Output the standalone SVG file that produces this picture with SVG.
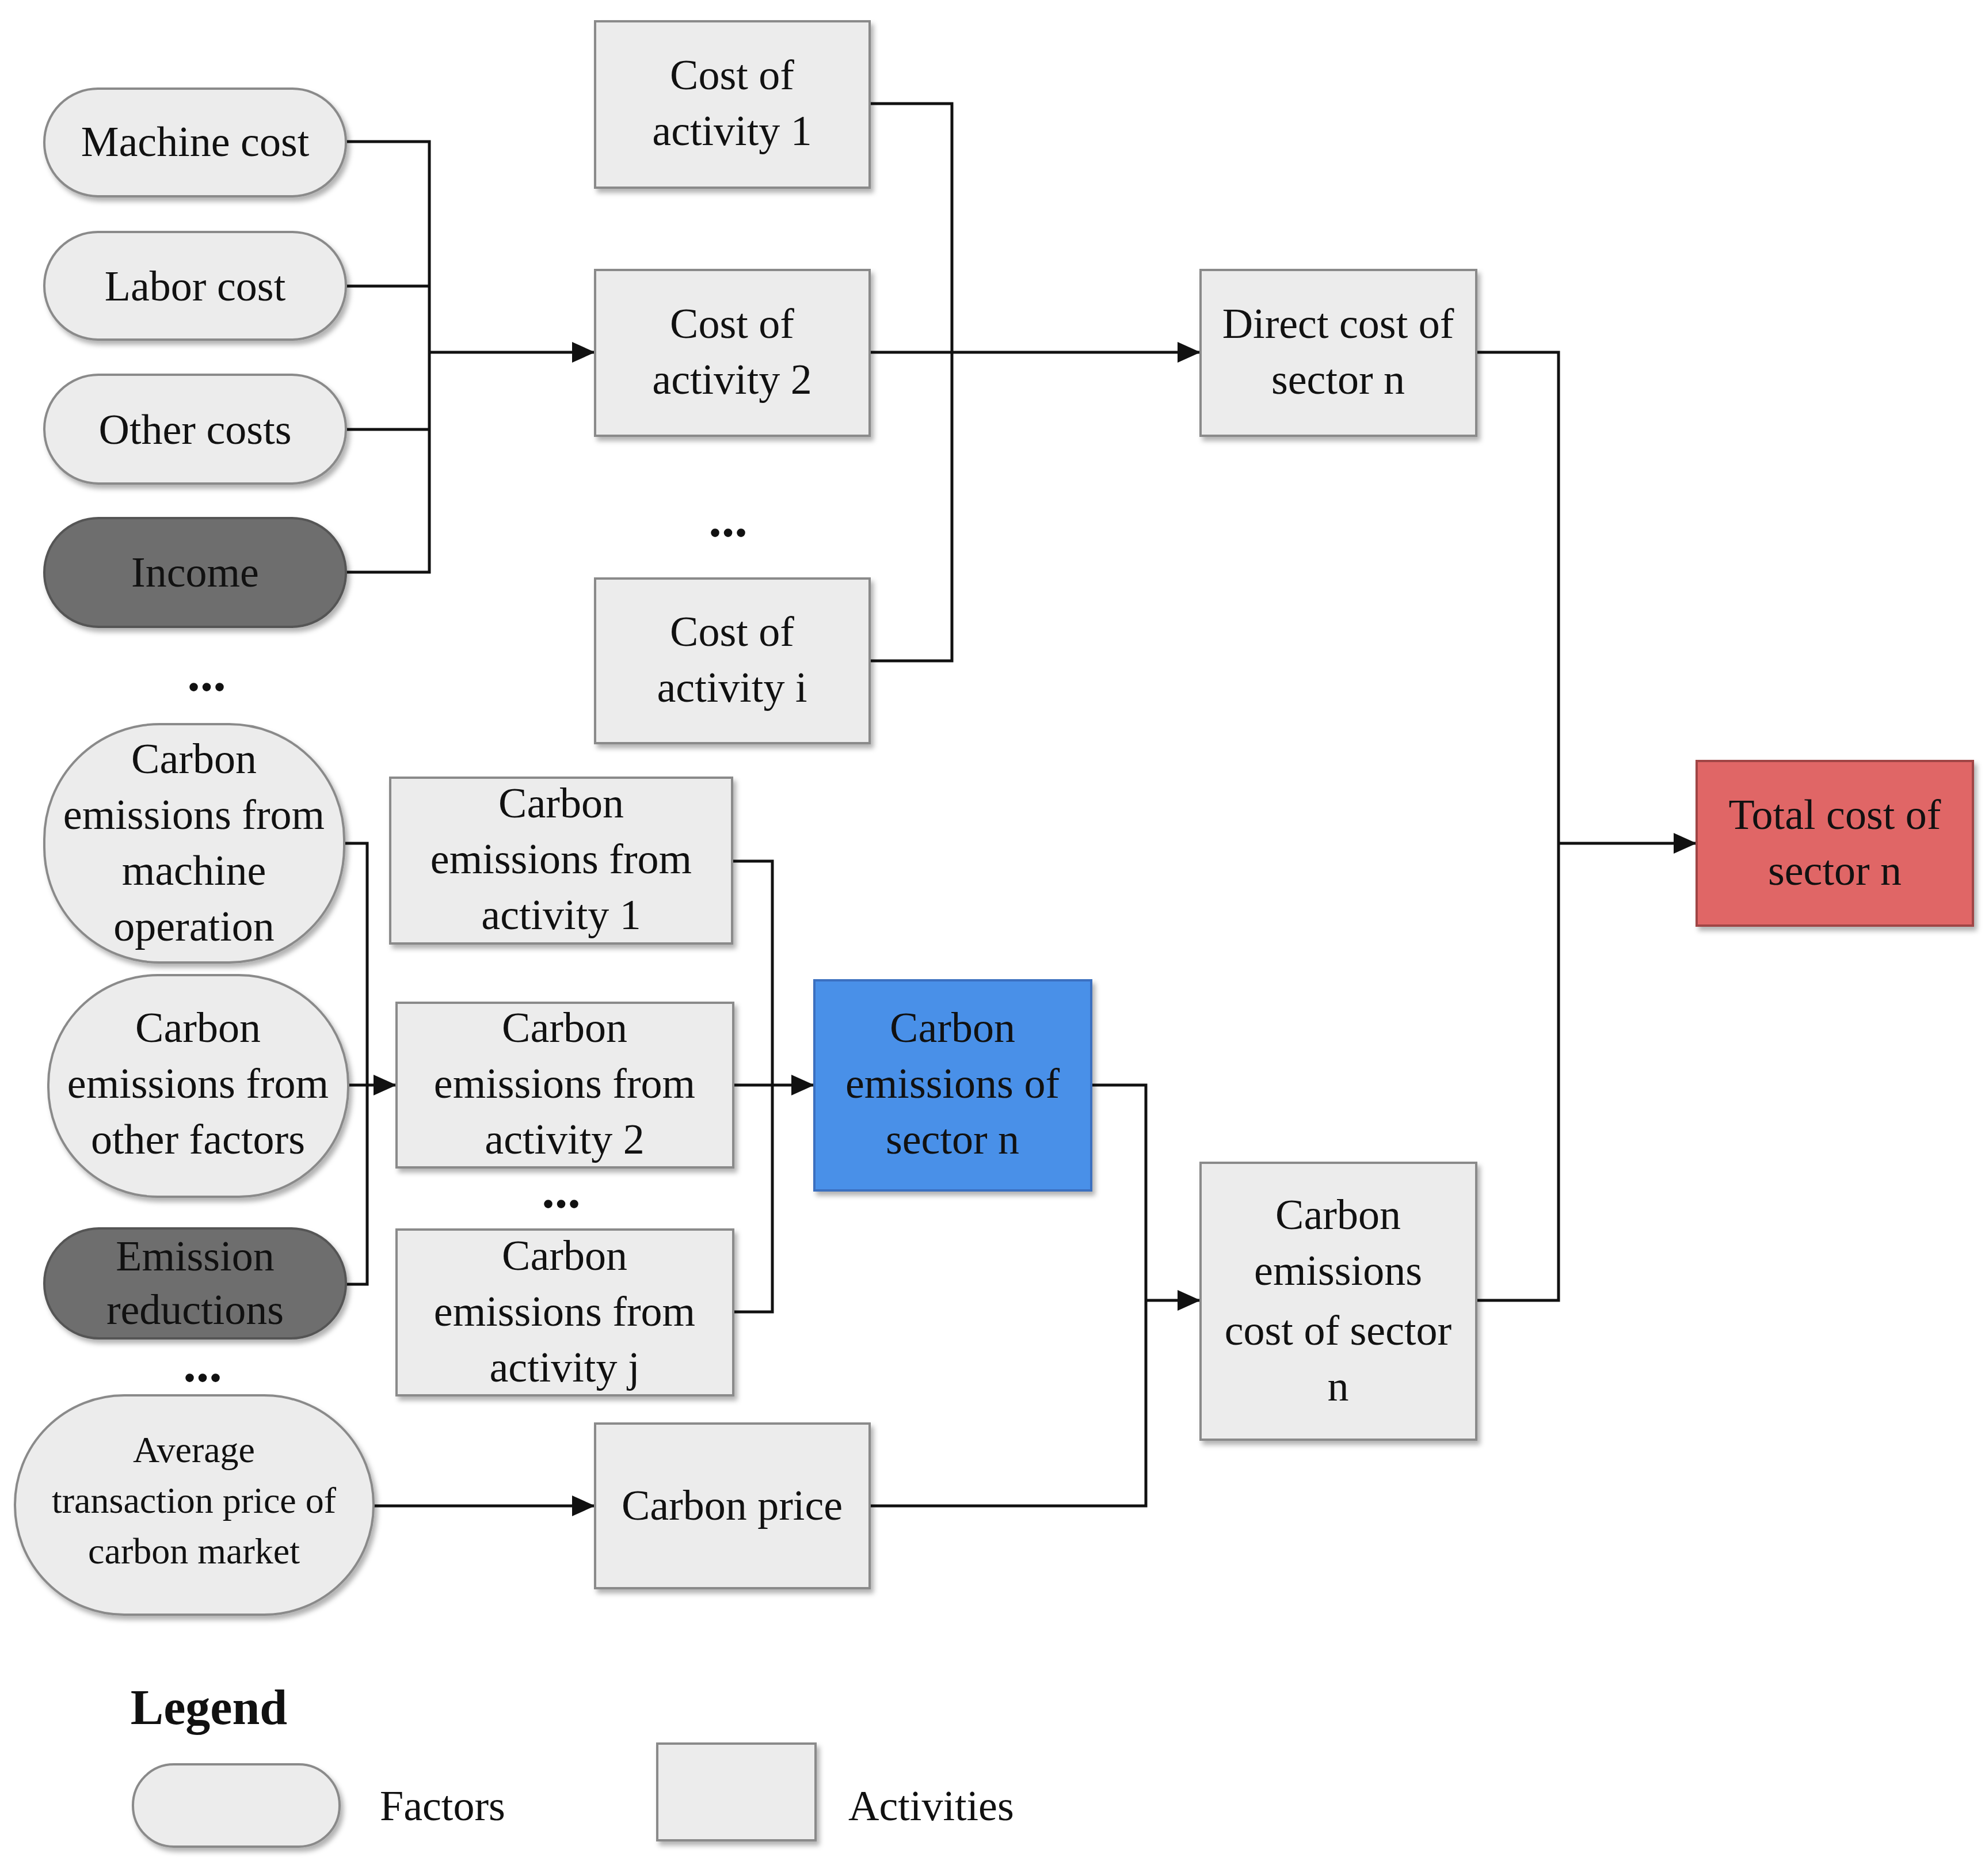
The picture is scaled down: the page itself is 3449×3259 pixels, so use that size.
<svg xmlns="http://www.w3.org/2000/svg" width="3449" height="3259" viewBox="0 0 3449 3259">
<style>
.f{fill:#ececec;stroke:#8a8a8a;stroke-width:4;filter:url(#sh)}
.d{fill:#6e6e6e;stroke:#555;stroke-width:4;filter:url(#sh)}
.b{fill:#ececec;stroke:#8a8a8a;stroke-width:4;filter:url(#sh)}
.t{font-family:"Liberation Serif",serif;font-size:74px;fill:#111;text-anchor:middle}
.s{font-size:64px}
.e{font-size:90px;font-weight:bold}
.c{fill:none;stroke:#111;stroke-width:5}
</style>
<defs>
<filter id="sh" x="-10%" y="-10%" width="130%" height="130%"><feDropShadow dx="5" dy="7" stdDeviation="4" flood-color="#000" flood-opacity="0.3"/></filter>
<marker id="m" viewBox="0 0 40 36" refX="40" refY="18" markerWidth="40" markerHeight="36" markerUnits="userSpaceOnUse" orient="auto"><path d="M0,0 L40,18 L0,36 z" fill="#111"/></marker>
</defs>
<rect width="3449" height="3259" fill="#fff"/>
<g id="connectors">
<path class="c" d="M601,246H746V994H601M601,497H746M601,746H746"/>
<path class="c" d="M746,612H1034" marker-end="url(#m)"/>
<path class="c" d="M1511,180H1654V1148H1511"/>
<path class="c" d="M1511,612H2086" marker-end="url(#m)"/>
<path class="c" d="M2565,612H2708V2259H2565"/>
<path class="c" d="M2708,1465H2948" marker-end="url(#m)"/>
<path class="c" d="M598,1465H638V2231H601"/>
<path class="c" d="M605,1885H689" marker-end="url(#m)"/>
<path class="c" d="M1272,1496H1342V2279H1274"/>
<path class="c" d="M1274,1885H1415" marker-end="url(#m)"/>
<path class="c" d="M1896,1885H1991V2616H1511"/>
<path class="c" d="M1991,2259H2086" marker-end="url(#m)"/>
<path class="c" d="M649,2616H1034" marker-end="url(#m)"/>
</g>
<g id="machine-cost"><rect class="f" x="77" y="154" width="524" height="187" rx="93"/><text class="t" x="339" y="271">Machine cost</text></g>
<g id="labor-cost"><rect class="f" x="77" y="403" width="524" height="187" rx="93"/><text class="t" x="339" y="522">Labor cost</text></g>
<g id="other-costs"><rect class="f" x="77" y="651" width="524" height="189" rx="94"/><text class="t" x="339" y="771">Other costs</text></g>
<g id="income"><rect class="d" x="77" y="900" width="524" height="189" rx="94"/><text class="t" x="339" y="1019">Income</text></g>
<text class="t e" x="359" y="1200">...</text>
<g id="carbon-machine"><rect class="f" x="77" y="1258" width="521" height="414" rx="200"/><text class="t" x="337" y="1343">Carbon</text><text class="t" x="337" y="1440">emissions from</text><text class="t" x="337" y="1537">machine</text><text class="t" x="337" y="1634">operation</text></g>
<g id="carbon-other"><rect class="f" x="84" y="1694" width="521" height="385" rx="190"/><text class="t" x="344" y="1810">Carbon</text><text class="t" x="344" y="1907">emissions from</text><text class="t" x="344" y="2004">other factors</text></g>
<g id="emission-reductions"><rect class="d" x="77" y="2134" width="524" height="191" rx="95"/><text class="t" x="339" y="2207">Emission</text><text class="t" x="339" y="2300">reductions</text></g>
<text class="t e" x="352" y="2400">...</text>
<g id="avg-price"><rect class="f" x="26" y="2424" width="623" height="381" rx="190"/><text class="t s" x="337" y="2540">Average</text><text class="t s" x="337" y="2628">transaction price of</text><text class="t s" x="337" y="2716">carbon market</text></g>
<g id="cost-act1"><rect class="b" x="1034" y="37" width="477" height="289"/><text class="t" x="1272" y="155">Cost of</text><text class="t" x="1272" y="252">activity 1</text></g>
<g id="cost-act2"><rect class="b" x="1034" y="469" width="477" height="288"/><text class="t" x="1272" y="587">Cost of</text><text class="t" x="1272" y="684">activity 2</text></g>
<text class="t e" x="1265" y="932">...</text>
<g id="cost-acti"><rect class="b" x="1034" y="1005" width="477" height="286"/><text class="t" x="1272" y="1122">Cost of</text><text class="t" x="1272" y="1219">activity i</text></g>
<g id="direct-cost"><rect class="b" x="2086" y="469" width="479" height="288"/><text class="t" x="2325" y="587">Direct cost of</text><text class="t" x="2325" y="684">sector n</text></g>
<g id="total-cost"><rect x="2948" y="1322" width="480" height="286" fill="#e06666" stroke="#a04545" stroke-width="4" filter="url(#sh)"/><text class="t" x="3188" y="1440">Total cost of</text><text class="t" x="3188" y="1537">sector n</text></g>
<g id="ce-act1"><rect class="b" x="678" y="1351" width="594" height="288"/><text class="t" x="975" y="1420">Carbon</text><text class="t" x="975" y="1517">emissions from</text><text class="t" x="975" y="1614">activity 1</text></g>
<g id="ce-act2"><rect class="b" x="689" y="1742" width="585" height="286"/><text class="t" x="981" y="1810">Carbon</text><text class="t" x="981" y="1907">emissions from</text><text class="t" x="981" y="2004">activity 2</text></g>
<text class="t e" x="975" y="2098">...</text>
<g id="ce-actj"><rect class="b" x="689" y="2136" width="585" height="288"/><text class="t" x="981" y="2206">Carbon</text><text class="t" x="981" y="2303">emissions from</text><text class="t" x="981" y="2400">activity j</text></g>
<g id="ce-sector"><rect x="1415" y="1703" width="481" height="365" fill="#4a90e8" stroke="#3a70c0" stroke-width="4" filter="url(#sh)"/><text class="t" x="1655" y="1810">Carbon</text><text class="t" x="1655" y="1907">emissions of</text><text class="t" x="1655" y="2004">sector n</text></g>
<g id="ce-cost"><rect class="b" x="2086" y="2020" width="479" height="481"/><text class="t" x="2325" y="2135">Carbon</text><text class="t" x="2325" y="2232">emissions</text><text class="t" x="2325" y="2336">cost of sector</text><text class="t" x="2325" y="2433">n</text></g>
<g id="carbon-price"><rect class="b" x="1034" y="2473" width="477" height="286"/><text class="t" x="1272" y="2640">Carbon price</text></g>
<g id="legend">
<text x="363" y="2995" font-family="Liberation Serif,serif" font-size="86" font-weight="bold" text-anchor="middle" fill="#111">Legend</text>
<rect class="f" x="231" y="3065" width="359" height="143" rx="71"/>
<text class="t" x="660" y="3162" style="text-anchor:start">Factors</text>
<rect class="b" x="1142" y="3029" width="275" height="168"/>
<text class="t" x="1474" y="3162" style="text-anchor:start">Activities</text>
</g>
</svg>
